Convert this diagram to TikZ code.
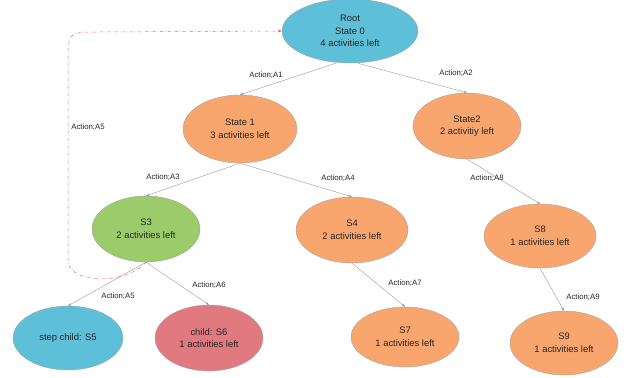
\documentclass[tikz,border=0pt]{standalone}
\usepackage{fontspec}
\setmainfont{Liberation Sans}
\usetikzlibrary{shapes.geometric}
\usetikzlibrary{arrows.meta}

\definecolor{rootblue}{HTML}{5DBFD8}
\definecolor{stateorange}{HTML}{F9A56E}
\definecolor{stategreen}{HTML}{9CCB6C}
\definecolor{statered}{HTML}{E07A80}
\definecolor{linkpink}{HTML}{E0607E}

\begin{document}
\begin{tikzpicture}[x=1pt,y=-1pt,
    state/.style={ellipse,draw=black!35,line width=0.4pt,inner sep=0pt,align=center,
        font=\fontsize{9.4}{12.5}\selectfont,text=black!85},
    edge/.style={draw=black!40,line width=0.4pt,-{Stealth[length=3.5pt,width=2.5pt]}},
    act/.style={font=\fontsize{7.8}{9}\selectfont,text=black!85,inner sep=1pt},
    backlink/.style={draw=linkpink,line width=0.5pt,dash dot,-{Stealth[length=4pt,width=3pt]}}]
    \useasboundingbox (0,0) rectangle (630,378);

    %states
    \node[state,fill=rootblue,minimum width=136,minimum height=64] (root) at (350,31) {Root\\State 0\\4 activities left};
    \node[state,fill=stateorange,minimum width=114,minimum height=68] (st1) at (240,129) {State 1\\3 activities left};
    \node[state,fill=stateorange,minimum width=108,minimum height=66] (st2) at (467,126) {State2\\2 activitiy left};
    \node[state,fill=stategreen,minimum width=108,minimum height=66] (s3) at (146,229) {S3\\2 activities left};
    \node[state,fill=stateorange,minimum width=112,minimum height=66] (s4) at (352,230) {S4\\2 activities left};
    \node[state,fill=stateorange,minimum width=112,minimum height=64] (s8) at (540,236) {S8\\1 activities left};
    \node[state,fill=rootblue,minimum width=110,minimum height=64] (s5) at (68,338) {step child: S5};
    \node[state,fill=statered,minimum width=108,minimum height=66] (s6) at (209,338) {child: S6\\1 activities left};
    \node[state,fill=stateorange,minimum width=108,minimum height=60] (s7) at (405,337) {S7\\1 activities left};
    \node[state,fill=stateorange,minimum width=108,minimum height=64] (s9) at (564,343) {S9\\1 activities left};

    %actions
    \draw[edge] (root.south) ++(-14,0) -- (st1.north);
    \draw[edge] (root.south) ++(8,0) -- (st2.north);
    \draw[edge] (st1.south) -- (s3.north);
    \draw[edge] (st1.south) -- (s4.north);
    \draw[edge] (st2.south) -- (s8.north);
    \draw[edge] (s3.south) -- (s5.north);
    \draw[edge] (s3.south) -- (s6.north);
    \draw[edge] (s4.south) -- (s7.north);
    \draw[edge] (s8.south) -- (s9.north);

    \node[act] (a1) at (266,75) {Action;A1};
    \node[act] (a2) at (456,73) {Action;A2};
    \node[act] (a3) at (163,177) {Action;A3};
    \node[act] (a4) at (338,178) {Action;A4};
    \node[act] (a8) at (487,178) {Action;A8};
    \node[act] (a5) at (118,296) {Action;A5};
    \node[act] (a6) at (209,285) {Action;A6};
    \node[act] (a7) at (405,283) {Action;A7};
    \node[act] (a9) at (583,297) {Action;A9};

    %step back to the root
    \coordinate (lowbend) at (68,262);
    \coordinate (highbend) at (68,62);
    \draw[backlink] (s3.south) .. controls (125,285) and (72,284) .. (lowbend)
        -- (highbend) .. controls (68,32) .. (100,32) -- (root.west);
    \node[act,fill=white] (a5back) at (88,127) {Action;A5};
\end{tikzpicture}
\end{document}
